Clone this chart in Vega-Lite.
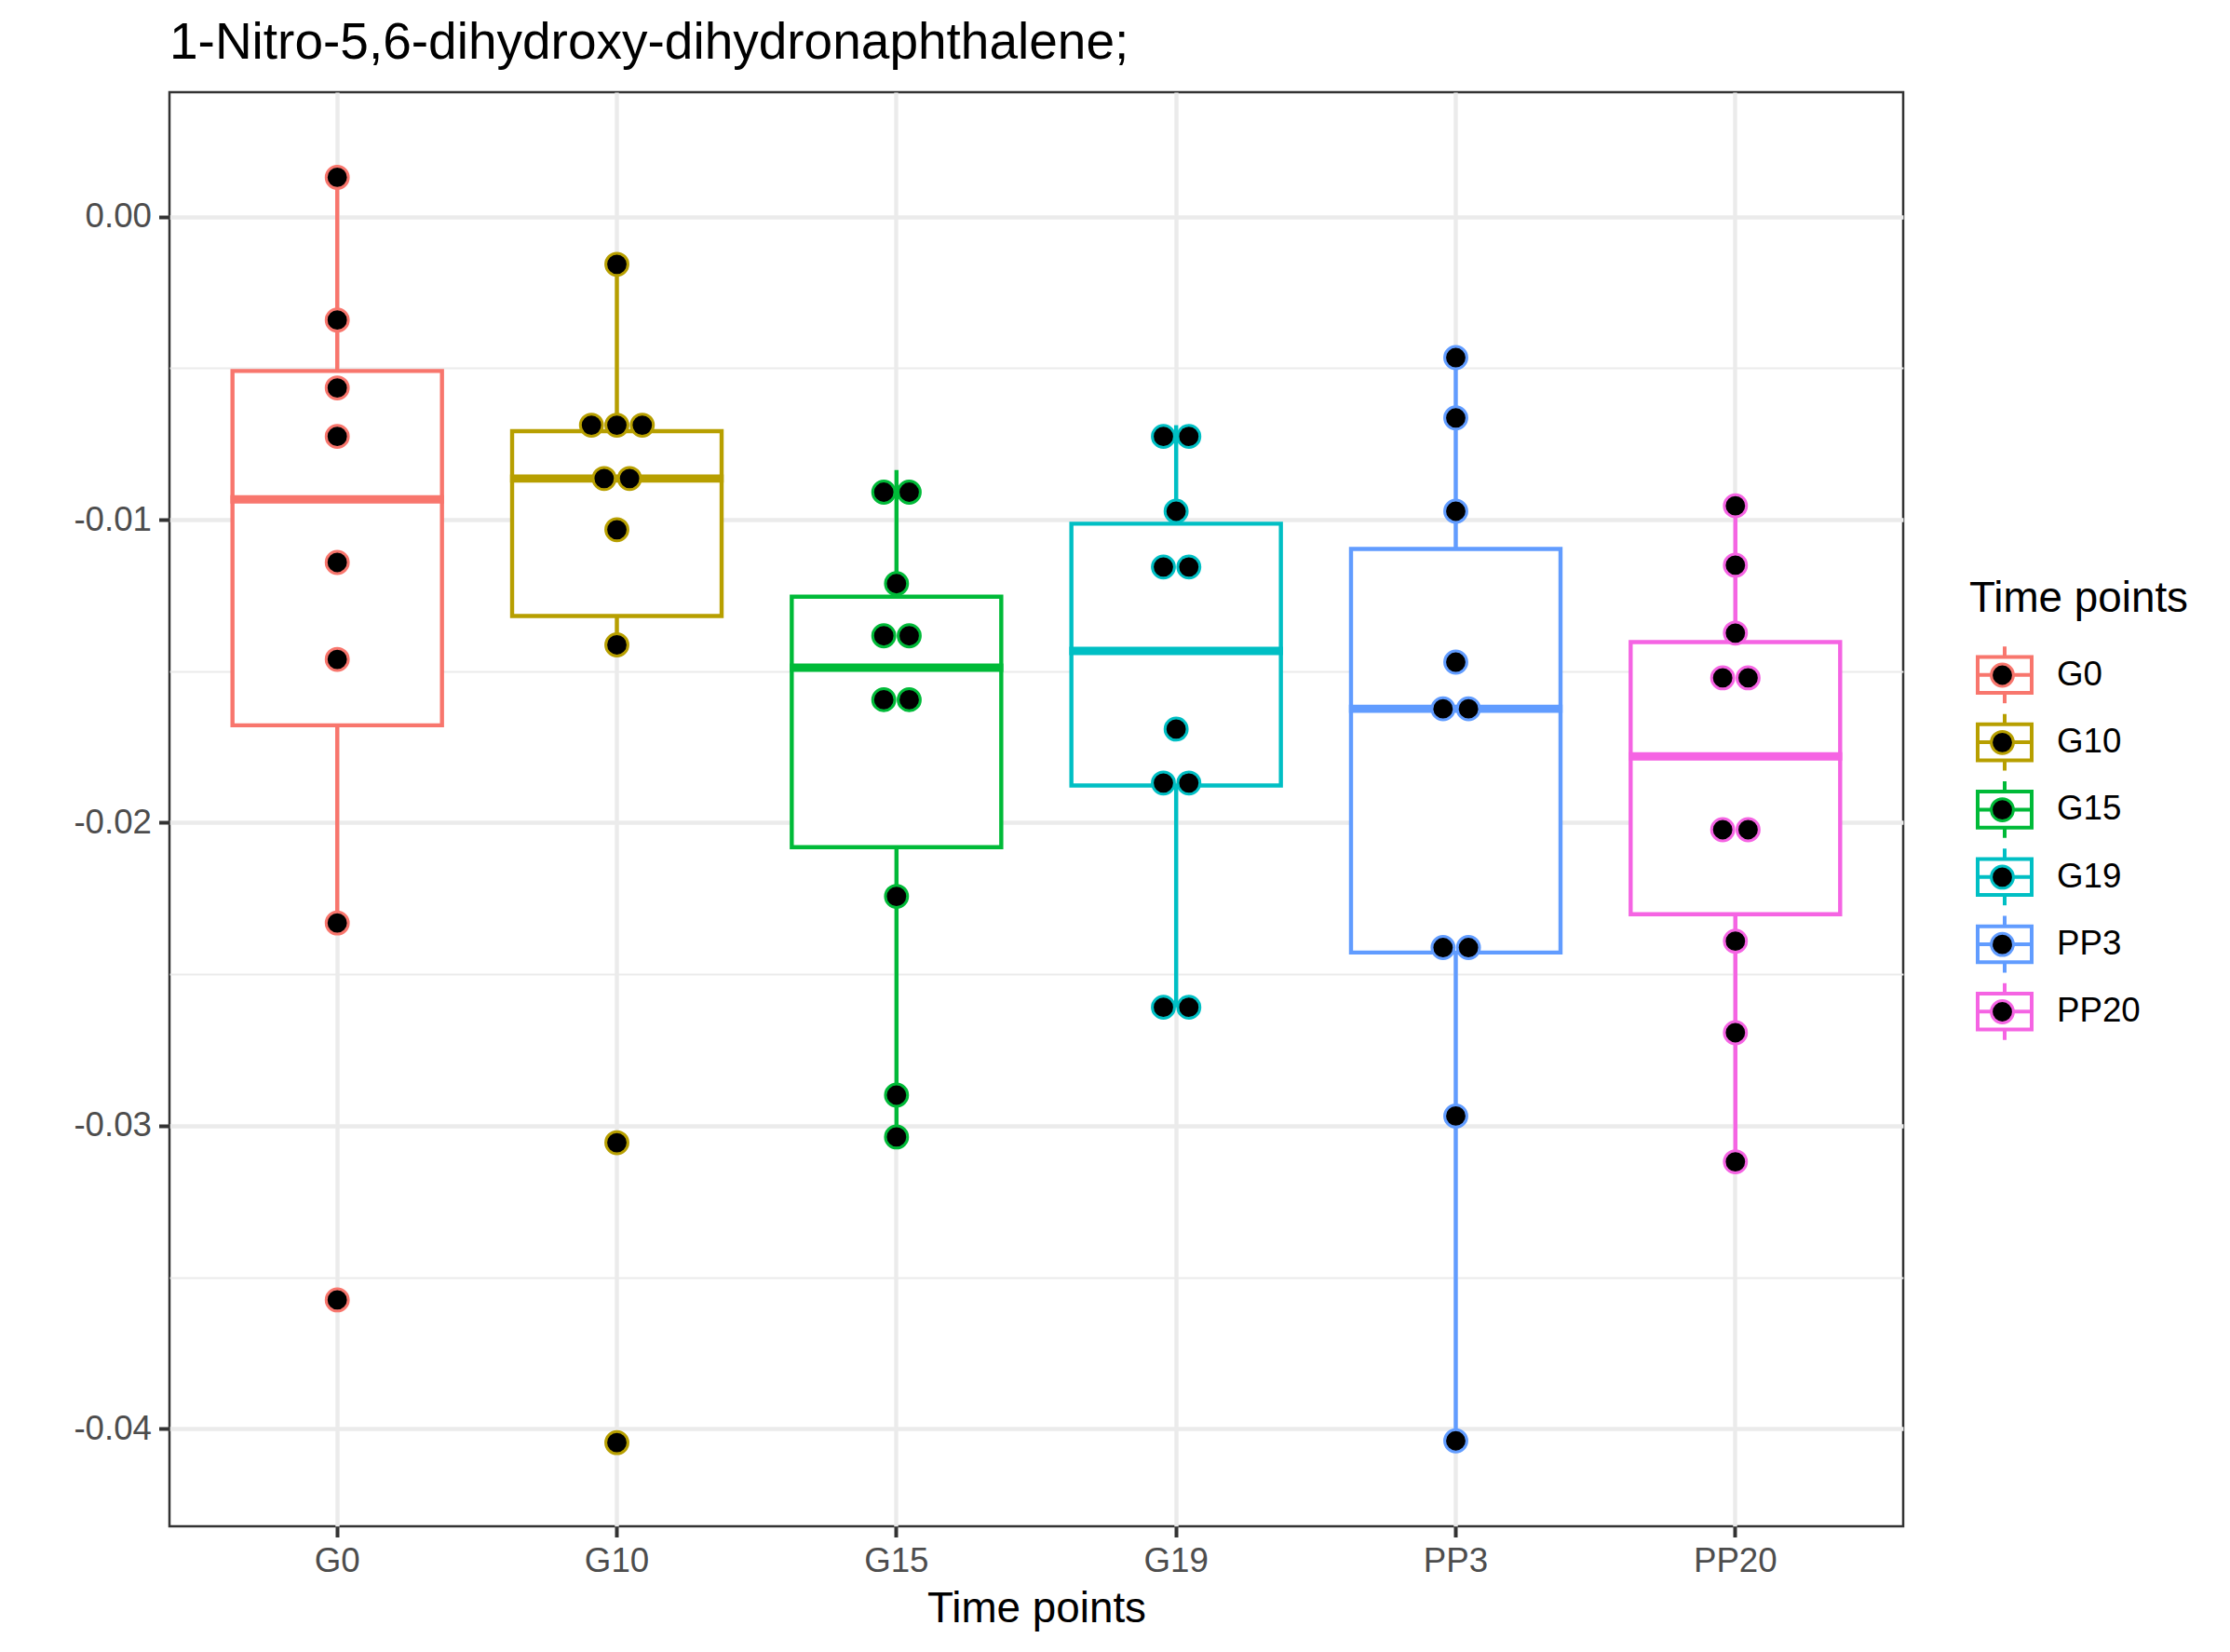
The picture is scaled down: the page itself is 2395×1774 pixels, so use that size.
{
  "$schema": "https://vega.github.io/schema/vega-lite/v6.json",
  "width": 1862,
  "height": 1540,
  "autosize": {"type": "none"},
  "padding": {"left": 182, "top": 99, "right": 351, "bottom": 135},
  "background": "white",
  "title": {"text": "1-Nitro-5,6-dihydroxy-dihydronaphthalene;", "anchor": "start", "frame": "group", "fontSize": 55, "fontWeight": "normal", "color": "black", "baseline": "alphabetic", "offset": -19, "font": "Liberation Sans"},
  "data": {"values": [
    {"group": "G0", "value": 0.0013, "dot": 0.0013},
    {"group": "G0", "value": -0.00341, "dot": -0.00341},
    {"group": "G0", "value": -0.00565, "dot": -0.00565},
    {"group": "G0", "value": -0.00725, "dot": -0.00725},
    {"group": "G0", "value": -0.01141, "dot": -0.01141},
    {"group": "G0", "value": -0.01461, "dot": -0.01461},
    {"group": "G0", "value": -0.02331, "dot": -0.02331},
    {"group": "G0", "value": -0.03575, "dot": -0.03575},
    {"group": "G10", "value": -0.00157, "dot": -0.00157},
    {"group": "G10", "value": -0.0073, "dot": -0.00688},
    {"group": "G10", "value": -0.0070, "dot": -0.00688},
    {"group": "G10", "value": -0.00646, "dot": -0.00688},
    {"group": "G10", "value": -0.00875, "dot": -0.00864},
    {"group": "G10", "value": -0.00853, "dot": -0.00864},
    {"group": "G10", "value": -0.01033, "dot": -0.01033},
    {"group": "G10", "value": -0.01413, "dot": -0.01413},
    {"group": "G10", "value": -0.03056, "dot": -0.03056},
    {"group": "G10", "value": -0.04046, "dot": -0.04046},
    {"group": "G15", "value": -0.00836, "dot": -0.00909},
    {"group": "G15", "value": -0.00982, "dot": -0.00909},
    {"group": "G15", "value": -0.01211, "dot": -0.01211},
    {"group": "G15", "value": -0.01383, "dot": -0.01383},
    {"group": "G15", "value": -0.01383, "dot": -0.01383},
    {"group": "G15", "value": -0.01594, "dot": -0.01594},
    {"group": "G15", "value": -0.01594, "dot": -0.01594},
    {"group": "G15", "value": -0.02243, "dot": -0.02243},
    {"group": "G15", "value": -0.02899, "dot": -0.02899},
    {"group": "G15", "value": -0.03037, "dot": -0.03037},
    {"group": "G19", "value": -0.00688, "dot": -0.00725},
    {"group": "G19", "value": -0.00762, "dot": -0.00725},
    {"group": "G19", "value": -0.00972, "dot": -0.00972},
    {"group": "G19", "value": -0.01137, "dot": -0.01156},
    {"group": "G19", "value": -0.01175, "dot": -0.01156},
    {"group": "G19", "value": -0.01691, "dot": -0.01691},
    {"group": "G19", "value": -0.01853, "dot": -0.01869},
    {"group": "G19", "value": -0.01885, "dot": -0.01869},
    {"group": "G19", "value": -0.02609, "dot": -0.02609},
    {"group": "G19", "value": -0.02609, "dot": -0.02609},
    {"group": "PP3", "value": -0.00465, "dot": -0.00465},
    {"group": "PP3", "value": -0.00664, "dot": -0.00664},
    {"group": "PP3", "value": -0.00972, "dot": -0.00972},
    {"group": "PP3", "value": -0.0147, "dot": -0.0147},
    {"group": "PP3", "value": -0.01624, "dot": -0.01624},
    {"group": "PP3", "value": -0.01624, "dot": -0.01624},
    {"group": "PP3", "value": -0.02379, "dot": -0.02412},
    {"group": "PP3", "value": -0.02445, "dot": -0.02412},
    {"group": "PP3", "value": -0.02968, "dot": -0.02968},
    {"group": "PP3", "value": -0.0404, "dot": -0.0404},
    {"group": "PP20", "value": -0.00954, "dot": -0.00954},
    {"group": "PP20", "value": -0.0115, "dot": -0.0115},
    {"group": "PP20", "value": -0.01374, "dot": -0.01374},
    {"group": "PP20", "value": -0.01493, "dot": -0.01522},
    {"group": "PP20", "value": -0.01551, "dot": -0.01522},
    {"group": "PP20", "value": -0.02011, "dot": -0.02023},
    {"group": "PP20", "value": -0.02035, "dot": -0.02023},
    {"group": "PP20", "value": -0.02391, "dot": -0.02391},
    {"group": "PP20", "value": -0.02693, "dot": -0.02693},
    {"group": "PP20", "value": -0.03119, "dot": -0.03119}
  ]},
  "encoding": {
    "x": {"field": "group", "type": "nominal", "sort": null, "scale": {"type": "band", "paddingInner": 0, "paddingOuter": 0.1},
      "axis": {"title": "Time points", "titleFontSize": 45.8, "titleFontWeight": "normal", "titleColor": "black", "titlePadding": 10,
        "labelFontSize": 36.7, "labelColor": "#4D4D4D", "labelAngle": 0, "labelPadding": 8,
        "tickSize": 11.5, "tickWidth": 4, "tickColor": "#333333", "domain": false,
        "grid": true, "gridColor": "#EBEBEB", "gridWidth": 4.4, "bandPosition": 0.5}}
  },
  "layer": [
    {
      "mark": {"type": "boxplot", "extent": 1.5, "size": 225, "ticks": false, "outliers": false,
        "box": {"fill": "white", "strokeWidth": 4.4},
        "median": {"thickness": 0.5, "strokeWidth": 8.4, "size": 221, "opacity": 1},
        "rule": {"strokeWidth": 4.4}},
      "encoding": {
        "y": {"field": "value", "type": "quantitative", "scale": {"domain": [-0.04322, 0.00411], "nice": false, "zero": false},
          "axis": {"title": null,
            "values": [-0.04, -0.035, -0.03, -0.025, -0.02, -0.015, -0.01, -0.005, 0],
            "labelExpr": "abs(datum.value*100 - round(datum.value*100)) < 0.001 ? replace(format(datum.value, '.2f'), '\u2212', '-') : ''",
            "labelFontSize": 36.7, "labelColor": "#4D4D4D", "labelPadding": 8,
            "tickSize": 11.5, "tickWidth": 4, "tickColor": "#333333",
            "tickOpacity": {"condition": {"test": "abs(datum.value*100 - round(datum.value*100)) < 0.001", "value": 1}, "value": 0},
            "domain": false, "grid": true, "gridColor": "#EBEBEB",
            "gridWidth": {"condition": {"test": "abs(datum.value*100 - round(datum.value*100)) < 0.001", "value": 4.4}, "value": 2.2}}},
        "stroke": {"field": "group", "type": "nominal", "sort": null,
          "scale": {"range": ["#F8766D", "#B79F00", "#00BA38", "#00BFC4", "#619CFF", "#F564E3"]},
          "legend": {"orient": "none", "legendX": 1933, "legendY": 522, "title": "Time points", "titleLimit": 600,
            "titleFontSize": 45.8, "titleFontWeight": "normal", "titleColor": "black", "titlePadding": 27,
            "labelFontSize": 36.7, "labelColor": "black", "labelOffset": 25, "symbolOffset": 7,
            "symbolType": "M-1,-0.665H1V0.665H-1Z M-1,0H1 M0,-0.665V-1.05 M0,0.665V1.05",
            "symbolSize": 3364, "symbolStrokeWidth": 4, "clipHeight": 62, "rowPadding": 10.3,
            "encode": {"symbols": {"update": {"fill": {"value": "transparent"}}}}}}
      }
    },
    {
      "transform": [
        {"window": [{"op": "row_number", "as": "k"}], "groupby": ["group", "dot"], "sort": [{"field": "value"}]},
        {"joinaggregate": [{"op": "count", "as": "n"}], "groupby": ["group", "dot"]},
        {"filter": "datum.n == 1"}
      ],
      "mark": {"type": "point", "shape": "circle", "filled": false, "fill": "black", "fillOpacity": 1, "opacity": 1, "size": 568, "strokeWidth": 3},
      "encoding": {
        "y": {"field": "dot", "type": "quantitative", "title": null},
        "color": {"field": "group", "type": "nominal",
          "scale": {"domain": ["G0", "G10", "G15", "G19", "PP3", "PP20"], "range": ["#F8766D", "#B79F00", "#00BA38", "#00BFC4", "#619CFF", "#F564E3"]},
          "legend": {"orient": "none", "legendX": 1933, "legendY": 595, "title": null,
            "labelExpr": "''", "labelOffset": 0, "symbolOffset": 22,
            "symbolType": "circle", "symbolSize": 568, "symbolStrokeWidth": 3, "clipHeight": 62, "rowPadding": 10.3,
            "encode": {"symbols": {"update": {"fill": {"value": "black"}, "opacity": {"value": 1}, "fillOpacity": {"value": 1}}}}}}
      }
    },
    {
      "transform": [
        {"window": [{"op": "row_number", "as": "k"}], "groupby": ["group", "dot"], "sort": [{"field": "value"}]},
        {"joinaggregate": [{"op": "count", "as": "n"}], "groupby": ["group", "dot"]},
        {"filter": "datum.n == 2"}
      ],
      "mark": {"type": "point", "shape": "circle", "filled": false, "fill": "black", "fillOpacity": 1, "opacity": 1, "size": 568, "strokeWidth": 3},
      "encoding": {
        "xOffset": {"field": "k", "type": "ordinal", "scale": {"domain": [1, 2], "range": [136.5, 163.8], "paddingInner": 0, "paddingOuter": 0}},
        "y": {"field": "dot", "type": "quantitative", "title": null},
        "color": {"field": "group", "type": "nominal"}
      }
    },
    {
      "transform": [
        {"window": [{"op": "row_number", "as": "k"}], "groupby": ["group", "dot"], "sort": [{"field": "value"}]},
        {"joinaggregate": [{"op": "count", "as": "n"}], "groupby": ["group", "dot"]},
        {"filter": "datum.n == 3"}
      ],
      "mark": {"type": "point", "shape": "circle", "filled": false, "fill": "black", "fillOpacity": 1, "opacity": 1, "size": 568, "strokeWidth": 3},
      "encoding": {
        "xOffset": {"field": "k", "type": "ordinal", "scale": {"domain": [1, 2, 3], "range": [122.85, 177.45], "paddingInner": 0, "paddingOuter": 0}},
        "y": {"field": "dot", "type": "quantitative", "title": null},
        "color": {"field": "group", "type": "nominal"}
      }
    }
  ],
  "resolve": {"scale": {"xOffset": "independent"}},
  "config": {
    "font": "Liberation Sans",
    "view": {"stroke": "#333333", "strokeWidth": 2.5}
  }
}
